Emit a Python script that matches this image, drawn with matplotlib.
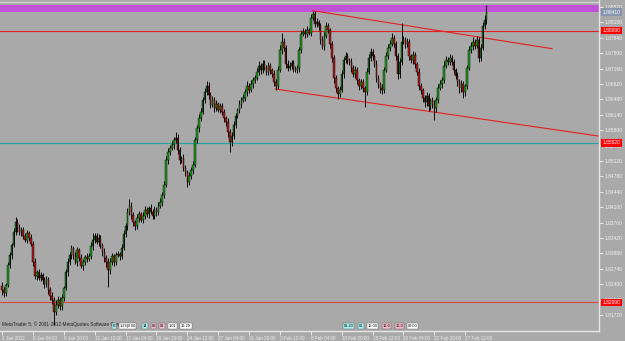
import numpy as np
import matplotlib
matplotlib.use("Agg")
import matplotlib.pyplot as plt
import matplotlib.transforms as mtransforms

plt.rcParams["font.family"] = ["Liberation Sans", "DejaVu Sans"]

# H4 candles, close prices (open = previous close)
first_open = 1.8236
closes = [
    1.8227, 1.8221, 1.8238, 1.8282, 1.8304, 1.8327, 1.8355, 1.8377, 1.8364, 1.8355,
    1.8360, 1.8346, 1.8338, 1.8353, 1.8342, 1.8329, 1.8289, 1.8258, 1.8267, 1.8254,
    1.8260, 1.8249, 1.8240, 1.8251, 1.8227, 1.8214, 1.8205, 1.8179, 1.8194, 1.8205,
    1.8192, 1.8210, 1.8232, 1.8267, 1.8289, 1.8304, 1.8320, 1.8302, 1.8289, 1.8316,
    1.8298, 1.8280, 1.8289, 1.8300, 1.8296, 1.8302, 1.8324, 1.8338, 1.8346, 1.8333,
    1.8342, 1.8327, 1.8311, 1.8298, 1.8289, 1.8271, 1.8289, 1.8302, 1.8289, 1.8304,
    1.8307, 1.8302, 1.8320, 1.8351, 1.8368, 1.8399, 1.8413, 1.8393, 1.8377, 1.8368,
    1.8386, 1.8395, 1.8382, 1.8391, 1.8404, 1.8395, 1.8408, 1.8399, 1.8391, 1.8404,
    1.8399, 1.8413, 1.8421, 1.8437, 1.8459, 1.8514, 1.8532, 1.8541, 1.8547, 1.8558,
    1.8563, 1.8536, 1.8514, 1.8519, 1.8497, 1.8488, 1.8466, 1.8479, 1.8492, 1.8503,
    1.8558, 1.8585, 1.8607, 1.8620, 1.8647, 1.8664, 1.8678, 1.8658, 1.8636, 1.8647,
    1.8629, 1.8638, 1.8625, 1.8633, 1.8620, 1.8607, 1.8598, 1.8576, 1.8554, 1.8567,
    1.8592, 1.8611, 1.8625, 1.8638, 1.8647, 1.8651, 1.8664, 1.8678, 1.8669, 1.8682,
    1.8691, 1.8695, 1.8709, 1.8722, 1.8713, 1.8726, 1.8717, 1.8709, 1.8722, 1.8713,
    1.8704, 1.8686, 1.8678, 1.8713, 1.8757, 1.8775, 1.8762, 1.8726, 1.8717, 1.8722,
    1.8728, 1.8717, 1.8713, 1.8717, 1.8757, 1.8792, 1.8797, 1.8792, 1.8801, 1.8795,
    1.8828, 1.8837, 1.8815, 1.8819, 1.8810, 1.8779, 1.8766, 1.8788, 1.8810, 1.8801,
    1.8770, 1.8739, 1.8695, 1.8673, 1.8660, 1.8669, 1.8704, 1.8735, 1.8744, 1.8735,
    1.8731, 1.8717, 1.8704, 1.8713, 1.8691, 1.8678, 1.8686, 1.8673, 1.8664, 1.8709,
    1.8739, 1.8753, 1.8744, 1.8726, 1.8695, 1.8682, 1.8673, 1.8669, 1.8713, 1.8744,
    1.8762, 1.8770, 1.8784, 1.8770, 1.8744, 1.8704, 1.8731, 1.8775, 1.8779, 1.8770,
    1.8775, 1.8744, 1.8735, 1.8746, 1.8726, 1.8709, 1.8678, 1.8669, 1.8651, 1.8642,
    1.8656, 1.8633, 1.8647, 1.8638, 1.8629, 1.8647, 1.8673, 1.8682, 1.8691, 1.8722,
    1.8735, 1.8731, 1.8739, 1.8731, 1.8713, 1.8700, 1.8686, 1.8673, 1.8682, 1.8664,
    1.8678, 1.8717, 1.8757, 1.8766, 1.8775, 1.8766, 1.8779, 1.8739, 1.8762, 1.8810,
    1.8823, 1.8841,
]
# wick lengths above / below body, in pips
wick_up = [
    8, 7, 5, 6, 8, 5, 9, 12, 7, 8, 6, 7, 8, 6, 5, 8, 7, 8, 5, 7,
    8, 5, 7, 8, 5, 7, 8, 6, 10, 8, 7, 8, 5, 7, 9, 8, 7, 5, 8, 7,
    5, 8, 7, 5, 8, 7, 9, 14, 8, 7, 8, 7, 5, 8, 7, 8, 9, 7, 5, 8,
    7, 5, 8, 9, 8, 10, 15, 8, 7, 5, 8, 7, 5, 8, 9, 7, 5, 8, 7, 8,
    7, 8, 9, 7, 8, 10, 8, 7, 9, 8, 13, 8, 7, 5, 8, 7, 5, 8, 7, 9,
    8, 7, 9, 8, 7, 10, 11, 8, 7, 8, 7, 8, 5, 7, 8, 7, 5, 8, 7, 9,
    8, 7, 5, 8, 7, 9, 8, 10, 7, 8, 7, 8, 9, 10, 7, 8, 9, 7, 8, 7,
    5, 8, 7, 9, 11, 20, 8, 7, 8, 9, 8, 7, 5, 8, 7, 9, 8, 7, 8, 5,
    8, 7, 7, 8, 5, 7, 8, 9, 8, 7, 5, 7, 8, 7, 5, 9, 8, 7, 8, 7,
    5, 8, 7, 8, 7, 5, 8, 7, 5, 8, 9, 8, 7, 5, 8, 7, 5, 8, 7, 9,
    8, 9, 10, 7, 8, 7, 9, 42, 8, 7, 8, 7, 5, 8, 7, 5, 8, 7, 5, 7,
    8, 7, 5, 7, 8, 7, 9, 8, 7, 10, 8, 7, 9, 8, 7, 5, 8, 7, 8, 7,
    5, 8, 9, 8, 10, 7, 8, 7, 9, 10, 11, 16,
]
wick_dn = [
    10, 9, 7, 5, 7, 8, 5, 7, 8, 7, 8, 7, 5, 8, 7, 5, 8, 7, 8, 5,
    7, 8, 9, 7, 8, 10, 8, 28, 8, 7, 9, 8, 7, 5, 8, 7, 8, 7, 5, 8,
    7, 5, 8, 7, 8, 5, 7, 8, 7, 5, 8, 7, 8, 9, 10, 37, 8, 7, 8, 7,
    5, 8, 7, 5, 7, 8, 7, 8, 9, 8, 7, 8, 5, 7, 8, 7, 8, 5, 7, 8,
    8, 7, 5, 8, 7, 5, 8, 7, 5, 8, 7, 8, 9, 7, 8, 10, 11, 8, 7, 8,
    5, 7, 8, 7, 5, 8, 7, 8, 7, 5, 8, 7, 5, 8, 7, 8, 9, 10, 22, 8,
    7, 8, 5, 7, 8, 5, 7, 8, 7, 5, 8, 7, 5, 7, 8, 7, 5, 8, 7, 8,
    7, 8, 9, 7, 5, 8, 7, 8, 7, 5, 7, 8, 5, 7, 8, 7, 5, 8, 7, 5,
    7, 5, 8, 7, 8, 9, 7, 8, 5, 7, 8, 9, 10, 8, 11, 7, 5, 8, 7, 8,
    7, 8, 7, 9, 8, 10, 7, 8, 33, 7, 5, 7, 8, 7, 9, 8, 10, 9, 7, 5,
    7, 8, 5, 7, 8, 10, 8, 7, 5, 8, 7, 8, 7, 8, 9, 8, 10, 9, 8, 11,
    9, 10, 8, 9, 26, 8, 7, 5, 8, 7, 5, 7, 8, 7, 9, 8, 9, 10, 8, 12,
    8, 7, 5, 7, 8, 7, 5, 8, 7, 5, 7, 8,
]

time_labels = ["2 Jan 2012", "6 Jan 04:00", "9 Jan 20:00", "12 Jan 12:00",
               "17 Jan 04:00", "19 Jan 20:00", "24 Jan 12:00", "27 Jan 04:00",
               "31 Jan 20:00", "3 Feb 12:00", "8 Feb 04:00", "10 Feb 20:00",
               "15 Feb 12:00", "20 Feb 04:00", "22 Feb 20:00", "27 Feb 12:00"]
bars_per_label = 16

price_ticks = [1.88520, 1.88180, 1.87840, 1.87500, 1.87160, 1.86820, 1.86480,
               1.86140, 1.85800, 1.85460, 1.85120, 1.84780, 1.84440, 1.84100,
               1.83760, 1.83420, 1.83080, 1.82740, 1.82400, 1.82060, 1.81720]

# objects on the chart
resistance = 1.8800
support_mid = 1.8552
support_low = 1.8200
bid = 1.8841
zone = (1.8841, 1.8857)
ask_line = 1.8863
upper_channel = ([161, 285], [1.8844, 1.8760])
lower_channel = ([141.5, 309.3], [1.8671, 1.8567])

closes = np.array(closes)
opens = np.concatenate([[first_open], closes[:-1]])
highs = np.maximum(opens, closes) + np.array(wick_up) / 10000
lows = np.minimum(opens, closes) - np.array(wick_dn) / 10000
idx = np.arange(len(closes))

BG = "#a9a9a9"
fig = plt.figure(figsize=(6.25, 3.41), dpi=100, facecolor=BG)
ax = fig.add_axes([0, 10 / 341, 599 / 625, 331 / 341], facecolor=BG)

ax.axhspan(*zone, color="#c052d8", lw=0, zorder=1)
ax.axhline(ask_line, color="#d8d8d8", lw=0.8, zorder=1)
ax.axhline(resistance, color="#e02020", lw=0.8, zorder=1)
ax.axhline(support_mid, color="#2aa3a3", lw=0.9, zorder=1)
ax.axhline(support_low, color="#d84848", lw=0.8, zorder=1)
ax.plot(*upper_channel, color="#e82020", lw=0.8, zorder=1)
ax.plot(*lower_channel, color="#e82020", lw=0.8, zorder=1)

ax.vlines(idx, lows, highs, color="black", lw=0.65, zorder=2)
up = closes >= opens
body_col = np.where(up, "#1e9a1e", "#b01818")
ax.bar(idx, np.abs(closes - opens), bottom=np.minimum(opens, closes),
       width=0.8, color=body_col, edgecolor="black", linewidth=0.3, zorder=3)

ax.set_xlim(-2 / 1.93, 597 / 1.93)
ax.set_ylim(1.88675 - 0.0002208 * 331, 1.88675)

for s in ["top", "left"]:
    ax.spines[s].set_visible(False)
for s in ["right", "bottom"]:
    ax.spines[s].set_color("#e6e6e6")
    ax.spines[s].set_linewidth(1)

ax.yaxis.tick_right()
ax.set_yticks(price_ticks)
ax.set_yticklabels([f"{p:.5f}" for p in price_ticks])
ax.tick_params(axis="y", colors="#f2f2f2", labelsize=3.5, length=3, pad=1, width=0.6)

ax.set_xticks(np.arange(len(time_labels)) * bars_per_label)
ax.set_xticklabels(time_labels, ha="left")
ax.tick_params(axis="x", colors="#f2f2f2", labelsize=3.3, length=3, pad=0.5, width=0.6)

trans = mtransforms.blended_transform_factory(ax.transAxes, ax.transData)
for price, txt, fc in [(resistance, "1.88000", "#ff0000"),
                       (support_mid, "1.85520", "#ff0000"),
                       (support_low, "1.82000", "#ff0000"),
                       (bid, "1.88410", "#8796ad")]:
    ax.text(1.006, price, txt, transform=trans, ha="left", va="center",
            fontsize=3.5, color="white", clip_on=False, zorder=5,
            bbox=dict(facecolor=fc, edgecolor="none", pad=0.8))

ax.text(0.003, 0.012, "MetaTrader 5, © 2001-2012 MetaQuotes Software Corp.",
        transform=ax.transAxes, fontsize=3.4, color="#202020", ha="left",
        va="bottom", zorder=5)

boxes1 = [("E", "#a8f0f0"), ("1.29|0.00", "white"), ("14", "#a8f0f0"),
          ("06", "#f4b8c8"), ("01", "#f4b8c8"), ("1.01", "white"), ("16:29", "white")]
boxes2 = [("01:20", "#a8f0f0"), ("01", "#a8f0f0"), ("16:00", "white"),
          ("16:0", "#f4b8c8"), ("16:0", "#f4b8c8"), ("00:00", "white")]
for start, items in [(113, boxes1), (344, boxes2)]:
    x = start
    for txt, fc in items:
        fig.text(x / 625, 1 - 326 / 341, txt, fontsize=2.8, color="black",
                 ha="left", va="center",
                 bbox=dict(facecolor=fc, edgecolor="#606060", lw=0.3, pad=0.5))
        x += 2.2 * len(txt) + 4

fig.savefig("out.png", dpi=100, facecolor=BG)
